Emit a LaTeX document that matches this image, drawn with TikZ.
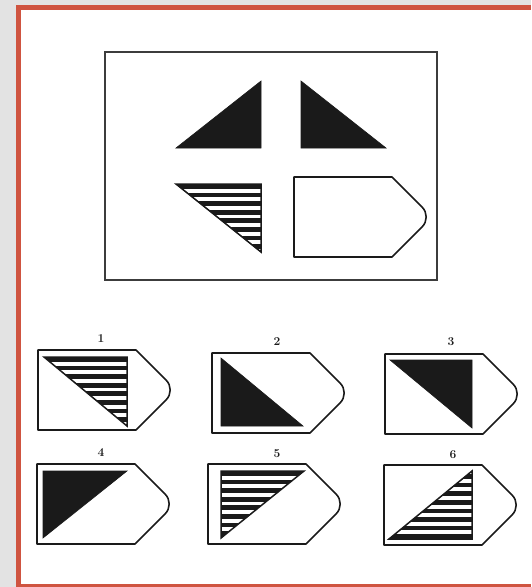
\documentclass[tikz,border=0pt]{standalone}
\definecolor{slidegrey}{HTML}{E3E3E3}
\definecolor{slidered}{HTML}{CF5440}
\definecolor{ink}{HTML}{1A1A1A}
\tikzset{
  tagline/.style={draw=ink, line width=1.6pt, line join=round},
  solidtri/.style={fill=ink, draw=ink, line width=0.6pt},
  hatchedge/.style={draw=ink, line width=1.5pt, line join=miter},
  numlabel/.style={font=\bfseries\fontsize{12}{14}\selectfont, text=ink, inner sep=0pt},
  tag/.pic={\draw[tagline] (0,0) -- (98,0) -- (128.1,30.1)
      arc[start angle=45, end angle=-45, radius=14pt] -- (98,80) -- (0,80) -- cycle;}
}
% striped triangle: corners #1 #2 #3, first stripe at y=#4, step #5, stripe height #6
\newcommand{\stripedtri}[6]{%
  \begin{scope}
    \clip #1 -- #2 -- #3 -- cycle;
    \foreach \k in {0,...,8}
      \fill[ink] (0,{#4+\k*(#5)}) rectangle ++(531,#6);
  \end{scope}
  \draw[hatchedge] #1 -- #2 -- #3 -- cycle;}
\begin{document}
\begin{tikzpicture}[x=1pt, y=-1pt]
\useasboundingbox (0,0) rectangle (531,587);
% slide background and frame
\fill[slidegrey] (0,0) rectangle (531,587);
\fill[slidered] (16,5) rectangle (531,587);
\fill[white] (21,10) rectangle (531,584);
% puzzle box
\draw[draw=ink!85, line width=1.6pt] (105,52) rectangle (437,280);
\fill[solidtri] (176,148) -- (261,81) -- (261,148) -- cycle;
\fill[solidtri] (301,81) -- (301,148) -- (386,148) -- cycle;
\stripedtri{(176,184)}{(261,184)}{(261,252)}{184}{8.6}{4.7}
\pic (blank) at (294,177) {tag};
% answer options, first row
\node[numlabel] (lab1) at (101,339) {1};
\node[numlabel] (lab2) at (277,342) {2};
\node[numlabel] (lab3) at (451,342) {3};
\pic (opt1) at (38,350) {tag};
\pic (opt2) at (212,353) {tag};
\pic (opt3) at (385,354) {tag};
\stripedtri{(44,357)}{(127,357)}{(127,426)}{357}{8.6}{4.7}
\fill[solidtri] (221,358) -- (221,426) -- (303,426) -- cycle;
\fill[solidtri] (390,360) -- (472,360) -- (472,428) -- cycle;
% answer options, second row
\node[numlabel] (lab4) at (101,453) {4};
\node[numlabel] (lab5) at (277,454) {5};
\node[numlabel] (lab6) at (453,455) {6};
\pic (opt4) at (37,464) {tag};
\pic (opt5) at (208,464) {tag};
\pic (opt6) at (384,465) {tag};
\fill[solidtri] (43,471) -- (127,471) -- (43,538) -- cycle;
\stripedtri{(221,471)}{(304,471)}{(221,538)}{471}{8.6}{4.7}
\stripedtri{(472,471)}{(472,539)}{(389,539)}{539}{-8.6}{-4.7}
\end{tikzpicture}
\end{document}
